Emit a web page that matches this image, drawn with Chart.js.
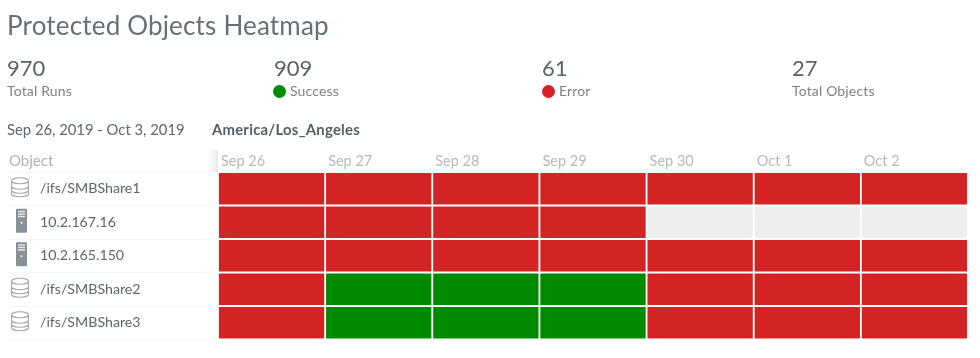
<!DOCTYPE html>
<html>
<head>
<meta charset="utf-8">
<title>Protected Objects Heatmap</title>
<script src="https://cdn.jsdelivr.net/npm/chart.js@4/dist/chart.umd.min.js"></script>
<style>
  html, body { margin: 0; padding: 0; background: #fff; }
  body { width: 980px; height: 358px; position: relative; overflow: hidden; font-family: Lato, sans-serif; color: #565f66; }
  #wrap { position: absolute; left: 0; top: 0; width: 980px; height: 358px; }
  .t { position: absolute; white-space: nowrap; line-height: 1; }
  .num { font-size: 22px; top: 57px; color: #5a6369; }
  .lbl { font-size: 14px; top: 84px; color: #7b8388; letter-spacing: 0.15px; }
  .dot { position: absolute; top: 85px; width: 13px; height: 13px; border-radius: 50%; }
</style>
</head>
<body>
<div id="wrap"><canvas id="heatmap" width="980" height="358"></canvas></div>
<div class="t" style="left:7px;top:12px;font-size:26px;color:#667078;letter-spacing:0.18px">Protected Objects Heatmap</div>

<div class="t num" style="left:7px">970</div>
<div class="t lbl" style="left:7px">Total Runs</div>
<div class="t num" style="left:274px">909</div>
<span class="dot" style="left:273px;background:#008a00"></span>
<div class="t lbl" style="left:290px">Success</div>
<div class="t num" style="left:542px">61</div>
<span class="dot" style="left:542px;background:#d9202a"></span>
<div class="t lbl" style="left:559px">Error</div>
<div class="t num" style="left:792px">27</div>
<div class="t lbl" style="left:792px">Total Objects</div>

<div class="t" style="left:7px;top:122px;font-size:14.8px;color:#5d666c">Sep 26, 2019 - Oct 3, 2019</div>
<div class="t" style="left:212px;top:122px;font-size:14.8px;color:#555e65;font-weight:bold;letter-spacing:0.27px">America/Los_Angeles</div>
<div class="t" style="left:9px;top:153px;font-size:15px;color:#aeb2b5">Object</div>

<script>
const days = ['Sep 26', 'Sep 27', 'Sep 28', 'Sep 29', 'Sep 30', 'Oct 1', 'Oct 2'];
const objects = ['/ifs/SMBShare1', '10.2.167.16', '10.2.165.150', '/ifs/SMBShare2', '/ifs/SMBShare3'];
const objectTypes = ['share', 'server', 'server', 'share', 'share'];

// one status per day, E = error, S = success, N = no runs
const share1Status = ['E', 'E', 'E', 'E', 'E', 'E', 'E'];
const host167Status = ['E', 'E', 'E', 'E', 'N', 'N', 'N'];
const host165Status = ['E', 'E', 'E', 'E', 'E', 'E', 'E'];
const share2Status = ['E', 'S', 'S', 'S', 'E', 'E', 'E'];
const share3Status = ['E', 'S', 'S', 'S', 'E', 'E', 'E'];
const statusRows = [share1Status, host167Status, host165Status, share2Status, share3Status];

function cellsFor(status) {
  const cells = [];
  statusRows.forEach((row, r) => {
    row.forEach((s, d) => {
      if (s === status) cells.push({ x: [d, d + 1], y: objects[r] });
    });
  });
  return cells;
}

function drawShare(c, x, y) {
  c.strokeStyle = '#a2a8ac';
  c.lineWidth = 1.1;
  const w = 8.5, top = y - 11, h = 19;
  c.beginPath();
  c.ellipse(x, top + 3, w, 3, 0, 0, Math.PI * 2);
  c.moveTo(x - w, top + 3);
  c.lineTo(x - w, top + h - 3);
  c.ellipse(x, top + h - 3, w, 3, 0, Math.PI, 0, true);
  c.lineTo(x + w, top + 3);
  c.moveTo(x - w, top + 8.5);
  c.ellipse(x, top + 8.5, w, 3, 0, Math.PI, 0, true);
  c.moveTo(x - w, top + 12.5);
  c.ellipse(x, top + 12.5, w, 3, 0, Math.PI, 0, true);
  c.stroke();
}

function drawServer(c, x, y) {
  c.fillStyle = '#8a9196';
  c.beginPath();
  c.roundRect(x - 5.5, y - 13.5, 11, 24, 1);
  c.fill();
  c.fillStyle = '#e4e6e7';
  c.fillRect(x - 3.5, y - 11.5, 7, 1.5);
  c.fillRect(x - 3.5, y - 9, 7, 1.5);
  c.fillRect(x - 3.5, y - 6.5, 7, 1.5);
  c.fillRect(x - 1, y - 0.5, 2, 2);
}

const objectIcons = {
  id: 'objectIcons',
  afterDraw(chart) {
    const c = chart.ctx, yScale = chart.scales.y;
    c.save();
    objects.forEach((name, i) => {
      const y = yScale.getPixelForValue(i);
      if (objectTypes[i] === 'share') drawShare(c, 20, y);
      else drawServer(c, 21.5, y);
      c.strokeStyle = '#f6f7f7';
      c.lineWidth = 1;
      c.beginPath();
      c.moveTo(8, Math.round(y + 16.5) + 0.5);
      c.lineTo(210, Math.round(y + 16.5) + 0.5);
      c.stroke();
    });
    c.strokeStyle = '#f6f7f7';
    c.beginPath();
    c.moveTo(8, 172.5);
    c.lineTo(210, 172.5);
    c.stroke();
    // soft shadow on the edge of the Object column
    const shade = c.createLinearGradient(207, 0, 218, 0);
    shade.addColorStop(0, 'rgba(225,225,225,0)');
    shade.addColorStop(1, 'rgba(225,225,225,0.75)');
    c.fillStyle = shade;
    c.fillRect(207, 150, 11, 22);
    c.restore();
  }
};

const ctx = document.getElementById('heatmap').getContext('2d');
new Chart(ctx, {
  type: 'bar',
  data: {
    labels: objects,
    datasets: [
      { label: 'Error', data: cellsFor('E'), backgroundColor: '#d32325', borderRadius: 1 },
      { label: 'Success', data: cellsFor('S'), backgroundColor: '#008a00', borderRadius: 1 },
      { label: 'No runs', data: cellsFor('N'), backgroundColor: '#eeeeee', borderRadius: 5 }
    ]
  },
  options: {
    indexAxis: 'y',
    responsive: false,
    animation: false,
    layout: { padding: { left: 40, right: 12, top: 150, bottom: 18.5 } },
    datasets: {
      bar: {
        grouped: false,
        barPercentage: 1,
        categoryPercentage: 1,
        borderColor: '#ffffff',
        borderWidth: 1.25,
        borderSkipped: false
      }
    },
    scales: {
      x: {
        type: 'linear',
        position: 'top',
        min: 0,
        max: days.length,
        afterFit: (scale) => { scale.height = 22; },
        grid: { display: false, drawTicks: false },
        border: { display: false },
        ticks: {
          stepSize: 1,
          autoSkip: false,
          maxRotation: 0,
          align: 'start',
          labelOffset: 3,
          padding: 2,
          color: '#b5b8ba',
          font: { family: 'Lato', size: 14.5 },
          callback: (v) => days[v] || ''
        }
      },
      y: {
        type: 'category',
        afterFit: (scale) => { scale.width = 178; },
        grid: { display: false, drawTicks: false },
        border: { display: false },
        ticks: {
          crossAlign: 'far',
          padding: 0,
          color: '#5d666c',
          font: { family: 'Lato', size: 14.2 }
        }
      }
    },
    plugins: {
      legend: { display: false },
      tooltip: { enabled: false }
    }
  },
  plugins: [objectIcons]
});
</script>
</body>
</html>
